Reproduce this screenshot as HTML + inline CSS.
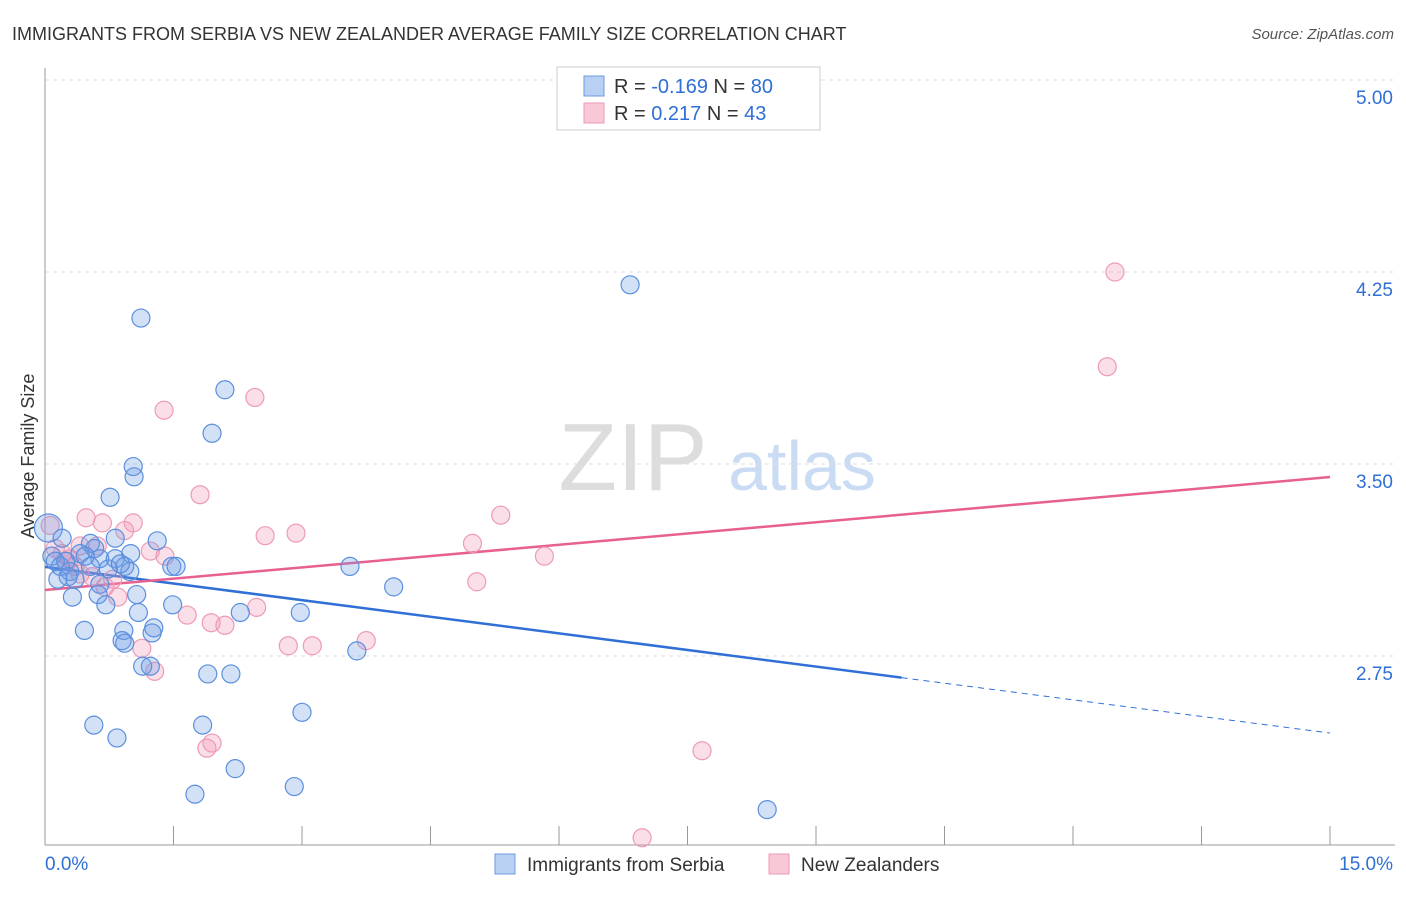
<!DOCTYPE html>
<html><head><meta charset="utf-8">
<style>
body{margin:0;background:#fff;font-family:"Liberation Sans",sans-serif;}
svg text{font-family:"Liberation Sans",sans-serif;}
</style></head>
<body>
<svg id="chart" width="1406" height="892" viewBox="0 0 1406 892" xmlns="http://www.w3.org/2000/svg">
<text x="12" y="40" font-size="18" fill="#333">IMMIGRANTS FROM SERBIA VS NEW ZEALANDER AVERAGE FAMILY SIZE CORRELATION CHART</text>
<text x="1394" y="39" font-size="15" fill="#555" text-anchor="end" font-style="italic">Source: ZipAtlas.com</text>
<g>
<text x="633" y="490" font-size="96" fill="#ddd" text-anchor="middle" font-family="Liberation Serif,serif">ZIP</text>
<text x="802" y="490" font-size="70" fill="#c9dcf3" text-anchor="middle">atlas</text>
</g>
<g id="grid"></g>
<g id="axes"></g>
<g id="lines"></g>
<g id="points"></g>
<text transform="translate(34,456) rotate(-90)" font-size="18" fill="#333" text-anchor="middle">Average Family Size</text>
<g>
<rect x="557" y="67" width="263" height="63" fill="#fff" stroke="#ccc"/>
<rect x="584" y="76" width="20" height="20" fill="#b8d0f2" stroke="#6c9be0"/>
<rect x="584" y="103" width="20" height="20" fill="#f8c8d6" stroke="#ee9ab5"/>
<text x="614" y="93" font-size="20" fill="#333">R = <tspan fill="#2f6fd6">-0.169</tspan>   N = <tspan fill="#2f6fd6">80</tspan></text>
<text x="614" y="120" font-size="20" fill="#333">R =   <tspan fill="#2f6fd6">0.217</tspan>   N = <tspan fill="#2f6fd6">43</tspan></text>
</g>
<g>
<rect x="495" y="854" width="20" height="20" fill="#b8d0f2" stroke="#6c9be0"/>
<text x="527" y="871" font-size="19" fill="#333">Immigrants from Serbia</text>
<rect x="769" y="854" width="20" height="20" fill="#f8c8d6" stroke="#ee9ab5"/>
<text x="801" y="871" font-size="19" fill="#333">New Zealanders</text>
</g>
</svg>
<script>
const blueX=[1.12,6.83,2.10,1.95,1.03,1.04,0.76,0.04,1.31,1.00,0.82,0.53,0.20,0.41,0.58,0.08,0.18,0.29,0.15,0.35,0.64,0.82,0.93,0.99,0.74,1.48,1.53,3.56,4.07,0.64,0.32,0.62,0.71,1.07,1.09,1.49,2.28,2.98,0.46,0.92,1.27,1.25,0.90,0.93,3.64,1.14,1.23,1.90,2.17,3.00,0.57,0.84,1.84,2.22,1.75,2.91,8.43,0.24,0.47,0.12,0.53,0.88,0.27];
const blueY=[4.07,4.20,3.79,3.62,3.49,3.45,3.37,3.25,3.20,3.15,3.21,3.19,3.21,3.15,3.17,3.14,3.10,3.08,3.05,3.05,3.13,3.13,3.10,3.08,3.09,3.10,3.10,3.10,3.02,3.03,2.98,2.99,2.95,2.99,2.92,2.95,2.92,2.92,2.85,2.85,2.86,2.84,2.81,2.80,2.77,2.71,2.71,2.68,2.68,2.53,2.48,2.43,2.48,2.31,2.21,2.24,2.15,3.12,3.14,3.12,3.10,3.11,3.06];
const blueSize=[9,9,9,9,9,9,9,14,9,9,9,9,9,9,9,9,9,9,9,9,9,9,9,9,9,9,9,9,9,9,9,9,9,9,9,9,9,9,9,9,9,9,9,9,9,9,9,9,9,9,9,9,9,9,9,9,9,9,9,9,9,9,9];
const pinkX=[12.49,12.40,1.39,2.45,1.81,5.32,0.48,0.67,1.03,2.57,2.93,0.93,4.99,5.83,1.23,1.40,0.41,0.61,0.20,0.29,0.12,5.04,0.41,0.85,0.79,1.66,1.94,2.10,2.47,2.84,3.12,3.75,1.13,1.28,1.95,1.89,7.67,6.97,0.06,0.35,0.55,0.25,0.70];
const pinkY=[4.25,3.88,3.71,3.76,3.38,3.30,3.29,3.27,3.27,3.22,3.23,3.24,3.19,3.14,3.16,3.14,3.18,3.18,3.15,3.13,3.17,3.04,3.07,2.98,3.05,2.91,2.88,2.87,2.94,2.79,2.79,2.81,2.78,2.69,2.41,2.39,2.38,2.04,3.26,3.10,3.06,3.12,3.02];
const xTicks=[0,1.5,3,4.5,6,7.5,9,10.5,12,13.5,15];
const yTicks=[2.75,3.5,4.25,5.0];
const yTickLabels=["2.75","3.50","4.25","5.00"];
const xEndLabels=["0.0%","15.0%"];
const blueTrend=[3.098,2.449];
const pinkTrend=[3.008,3.449];
const blueSolidEnd=10.0;

const NS="http://www.w3.org/2000/svg";
const X0=45,X1=1330;
const sx=v=>X0+(v/15)*(X1-X0);
const sy=v=>80+(5-v)*256;
function mk(tag,attrs,parent){const e=document.createElementNS(NS,tag);for(const k in attrs)e.setAttribute(k,attrs[k]);parent.appendChild(e);return e;}
const grid=document.getElementById('grid'),axes=document.getElementById('axes'),lines=document.getElementById('lines'),pts=document.getElementById('points');
yTicks.forEach((t,i)=>{
 const l=mk('line',{x1:X0,x2:1395,y1:sy(t),y2:sy(t),stroke:'#ddd','stroke-dasharray':'4,4'},grid);
 
 
 const tx=mk('text',{x:1393,y:sy(t)+24,'font-size':19,fill:'#2f6fd6','text-anchor':'end'},axes);
 tx.textContent=yTickLabels[i];
 
 
});
const ya=mk('line',{x1:X0,x2:X0,y1:68,y2:845,stroke:'#999'},axes);


const xa=mk('line',{x1:X0,x2:1395,y1:845,y2:845,stroke:'#999'},axes);


xTicks.forEach(t=>{
 const l=mk('line',{x1:sx(t),x2:sx(t),y1:826,y2:845,stroke:'#999'},axes);
 
 
});
const xl0=mk('text',{x:45,y:870,'font-size':19,fill:'#2f6fd6'},axes);xl0.textContent=xEndLabels[0];


const xl1=mk('text',{x:1393,y:870,'font-size':19,fill:'#2f6fd6','text-anchor':'end'},axes);xl1.textContent=xEndLabels[1];


const bAt=v=>blueTrend[0]+(blueTrend[1]-blueTrend[0])*v/15;
const bl=mk('line',{x1:sx(0),y1:sy(blueTrend[0]),x2:sx(blueSolidEnd),y2:sy(bAt(blueSolidEnd)),stroke:'#2f6fd6','stroke-width':2.5},lines);


const bd=mk('line',{x1:sx(blueSolidEnd),y1:sy(bAt(blueSolidEnd)),x2:sx(15),y2:sy(blueTrend[1]),stroke:'#2f6fd6','stroke-width':1,'stroke-dasharray':'6,5'},lines);


const pl=mk('line',{x1:sx(0),y1:sy(pinkTrend[0]),x2:sx(15),y2:sy(pinkTrend[1]),stroke:'#e8608f','stroke-width':2.5},lines);


pinkX.forEach((x,i)=>{
 const c=mk('circle',{cx:sx(x),cy:sy(pinkY[i]),r:9,fill:'rgba(242,150,180,0.3)',stroke:'#ee9ab5','stroke-width':1.2},pts);
 
 
});
blueX.forEach((x,i)=>{
 const c=mk('circle',{cx:sx(x),cy:sy(blueY[i]),r:blueSize[i],fill:'rgba(110,155,228,0.3)',stroke:'#5b8fde','stroke-width':1.2},pts);
 
 
});
</script>
</body></html>
